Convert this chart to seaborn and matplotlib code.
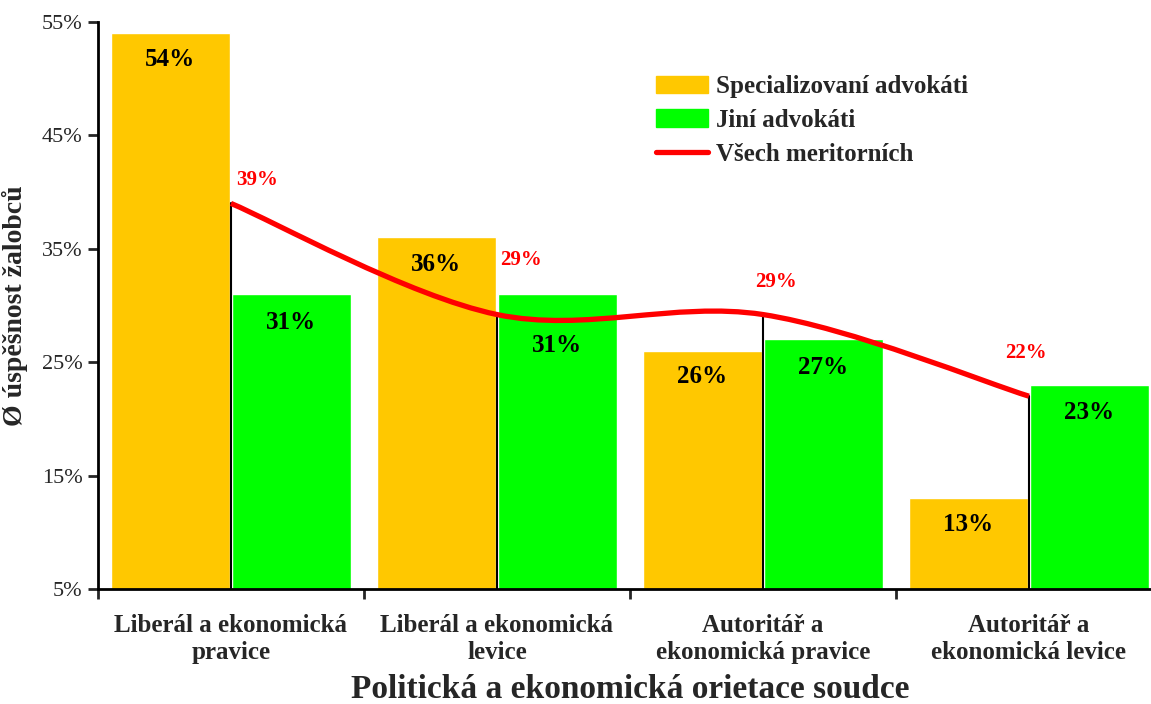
import numpy as np
import pandas as pd
import matplotlib
matplotlib.use("Agg")
import matplotlib.pyplot as plt
import seaborn as sns
from matplotlib.path import Path
from matplotlib.patches import PathPatch, Patch
from matplotlib.lines import Line2D

# data
categories = ["Liberál a ekonomická\npravice", "Liberál a ekonomická\nlevice",
              "Autoritář a\nekonomická pravice", "Autoritář a\nekonomická levice"]
specialized = [54, 36, 26, 13]
others = [31, 31, 27, 23]
all_merit = [39, 29.2, 29.2, 22]
series_names = ["Specializovaní advokáti", "Jiní advokáti", "Všech meritorních"]
yticks = [5, 15, 25, 35, 45, 55]

# label offsets (pixels): red line labels, and drop of bar labels below bar top
red_offsets = [(26, 23), (24, 55), (13, 33), (-3, 43)]
bar_label_drop = [[26, 27, 26, 26], [28, 51, 28, 28]]

sns.set_style("white")
plt.rcParams['font.family'] = ['Liberation Serif', 'DejaVu Serif']

df = pd.DataFrame({
    "cat": categories * 2,
    "val": specialized + others,
    "group": [series_names[0]] * 4 + [series_names[1]] * 4,
})

colors = {series_names[0]: "#FFC800", series_names[1]: "#00FF00"}

fig = plt.figure(figsize=(11.51, 7.04), dpi=100)
ax = fig.add_axes([0.0851, 0.1634, 0.9244, 0.8054])

sns.barplot(data=df, x="cat", y="val", hue="group", palette=colors,
            width=0.91, gap=0.02, saturation=1, legend=False, ax=ax)

ax.set_xlim(-0.5, 3.5)
ax.set_ylim(5, 55)

# value labels inside bars
for cont, drops in zip(ax.containers, bar_label_drop):
    for rect, d in zip(cont, drops):
        h = rect.get_height()
        ax.annotate(f"{h:.0f}%", (rect.get_x() + rect.get_width() / 2, h),
                    xytext=(0, -d), textcoords="offset pixels",
                    ha="center", va="center", fontsize=18, fontweight="bold",
                    color="black")

# drop lines from the line points to the axis
xs = np.arange(len(all_merit))
for x, v in zip(xs, all_merit):
    ax.plot([x, x], [5, v], color="black", lw=1.5, zorder=3)

# smoothed line (Excel-like bezier through the points)
pts = np.column_stack([xs, all_merit]).astype(float)
ext = np.vstack([pts[0], pts, pts[-1]])
verts = [tuple(pts[0])]
codes = [Path.MOVETO]
for i in range(len(pts) - 1):
    p0, p1, p2, p3 = ext[i], ext[i + 1], ext[i + 2], ext[i + 3]
    c1 = p1 + (p2 - p0) / 6
    c2 = p2 - (p3 - p1) / 6
    verts += [tuple(c1), tuple(c2), tuple(p2)]
    codes += [Path.CURVE4] * 3
ax.add_patch(PathPatch(Path(verts, codes), facecolor="none", edgecolor="#FF0000",
                       lw=3.8, zorder=4, capstyle="butt"))

for x, v, (dx, dy) in zip(xs, all_merit, red_offsets):
    ax.annotate(f"{v:.0f}%", (x, v), xytext=(dx, dy), textcoords="offset pixels",
                ha="center", va="center", fontsize=15, fontweight="bold",
                color="#FF0000")

# axes styling
ax.set_yticks(yticks)
ax.set_yticklabels([f"{t}%" for t in yticks], fontsize=16)
ax.set_xticks(range(len(categories)))
ax.set_xticklabels(categories, fontsize=18, fontweight="bold", linespacing=1.25)
ax.set_xticks([-0.5, 0.5, 1.5, 2.5], minor=True)
ax.tick_params(axis="x", which="major", length=0, pad=18)
ax.tick_params(axis="x", which="minor", length=7, width=2, direction="out", bottom=True)
ax.tick_params(axis="y", length=7, width=2, direction="out", left=True, pad=4)
for s in ["top", "right"]:
    ax.spines[s].set_visible(False)
for s in ["left", "bottom"]:
    ax.spines[s].set_linewidth(2)
    ax.spines[s].set_color("black")

ax.set_xlabel("Politická a ekonomická orietace soudce", fontsize=24,
              fontweight="bold", labelpad=7)
ax.set_ylabel("Ø úspěšnost žalobců", fontsize=20, fontweight="bold", labelpad=10)

handles = [Patch(color=colors[series_names[0]]), Patch(color=colors[series_names[1]]),
           Line2D([0], [0], color="#FF0000", lw=3.8)]
ax.legend(handles, series_names, loc="upper left", bbox_to_anchor=(0.503, 0.946),
          frameon=False, prop={"size": 18, "weight": "bold"},
          handlelength=2.1, handleheight=0.7, labelspacing=0.43, handletextpad=0.32)

fig.savefig("out.png", dpi=100)
